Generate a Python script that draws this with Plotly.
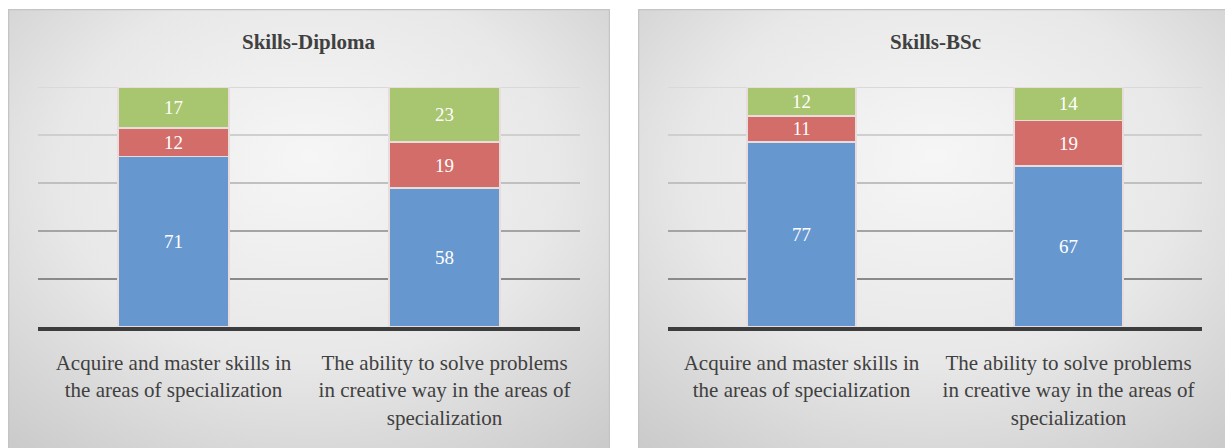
import base64
import plotly.graph_objects as go
from plotly.subplots import make_subplots

# ---- data -------------------------------------------------------------
categories = [
    "Acquire and master skills in the areas of specialization",
    "The ability to solve problems in creative way in the areas of specialization",
]
tick_labels = [
    "Acquire and master skills in<br>the areas of specialization",
    "The ability to solve problems<br>in creative way in the areas of<br>specialization",
]
panel_titles = ["Skills-Diploma", "Skills-BSc"]

diploma_blue = [71, 58]
diploma_red = [12, 19]
diploma_green = [17, 23]

bsc_blue = [77, 67]
bsc_red = [11, 19]
bsc_green = [12, 14]

y_ticks = [0, 20, 40, 60, 80, 100]

# ---- styling ----------------------------------------------------------
W, H = 1225, 448
SERIF = "Liberation Serif, Times New Roman, serif"
seg_colors = ["#6797cf", "#d26d69", "#a8c56f"]
grid_colors = {20: "#8a8a8a", 40: "#a4a4a4", 60: "#c0c0c0", 80: "#cfcfcf", 100: "#d9d9d9"}


def panel_svg(w, h):
    svg = f"""<svg xmlns='http://www.w3.org/2000/svg' width='{w}' height='{h}' viewBox='0 0 {w} {h}' preserveAspectRatio='none'>
<defs><radialGradient id='g' cx='50%' cy='38%' r='75%' fx='50%' fy='32%'>
<stop offset='0%' stop-color='#f6f6f6'/><stop offset='55%' stop-color='#e8e8e8'/><stop offset='100%' stop-color='#cbcbcb'/>
</radialGradient></defs>
<rect x='0.5' y='0.5' width='{w-1}' height='{h-1}' fill='url(#g)' stroke='#c4c4c4' stroke-width='1.5'/>
</svg>"""
    return "data:image/svg+xml;base64," + base64.b64encode(svg.encode()).decode()


fig = make_subplots(rows=1, cols=2)

panels = [
    (diploma_blue, diploma_red, diploma_green),
    (bsc_blue, bsc_red, bsc_green),
]
for col, series in enumerate(panels, start=1):
    for vals, color in zip(series, seg_colors):
        fig.add_trace(
            go.Bar(
                x=categories,
                y=vals,
                marker=dict(color=color, line=dict(color="#e9dcdc", width=1.5)),
                text=vals,
                texttemplate="%{y}",
                textposition="inside",
                insidetextanchor="middle",
                textangle=0,
                insidetextfont=dict(family=SERIF, size=19, color="white"),
                hoverinfo="skip",
                showlegend=False,
            ),
            row=1,
            col=col,
        )

fig.update_layout(
    width=W,
    height=H,
    margin=dict(l=0, r=0, t=0, b=0),
    paper_bgcolor="white",
    plot_bgcolor="rgba(0,0,0,0)",
    barmode="stack",
    bargap=0.59,
    showlegend=False,
    font=dict(family=SERIF, color="#404040"),
)

x_domains = [(38 / W, 580 / W), (668 / W, 1202 / W)]
y_domain = (1 - 327 / H, 1 - 87 / H)

for i, (d, title) in enumerate(zip(x_domains, panel_titles)):
    xa = "xaxis" if i == 0 else f"xaxis{i+1}"
    ya = "yaxis" if i == 0 else f"yaxis{i+1}"
    fig.update_layout(
        {
            xa: dict(
                domain=list(d),
                type="category",
                range=[-0.5, 1.5],
                tickvals=categories,
                ticktext=tick_labels,
                tickfont=dict(family=SERIF, size=21, color="#404040"),
                showline=True,
                linecolor="#3d3d3d",
                linewidth=3.5,
                showgrid=False,
                ticks="",
                ticklabelstandoff=14,
                fixedrange=True,
            ),
            ya: dict(
                domain=list(y_domain),
                range=[0, 100],
                showticklabels=False,
                showgrid=False,
                zeroline=False,
                fixedrange=True,
            ),
        }
    )
    xref = "x" if i == 0 else f"x{i+1}"
    yref = "y" if i == 0 else f"y{i+1}"
    # horizontal gridlines
    for v in y_ticks[1:]:
        fig.add_shape(
            type="line", xref=f"{xref} domain", yref=yref,
            x0=0, x1=1, y0=v, y1=v,
            line=dict(color=grid_colors[v], width=2), layer="below",
        )
    # panel title
    fig.add_annotation(
        text=f"<b>{title}</b>", xref="paper", yref="paper",
        x=(d[0] + d[1]) / 2, y=1 - 42 / H, xanchor="center", yanchor="middle",
        showarrow=False, font=dict(family=SERIF, size=21, color="#404040"),
    )

# shaded panel backgrounds
panel_boxes = [(8, 9, 602, 460), (638, 9, 594, 460)]
for (px, py, pw, ph) in panel_boxes:
    fig.add_layout_image(
        source=panel_svg(pw, ph), xref="paper", yref="paper",
        x=px / W, y=1 - py / H, sizex=pw / W, sizey=ph / H,
        xanchor="left", yanchor="top", sizing="stretch", layer="below",
    )

fig.write_html("out.html")
